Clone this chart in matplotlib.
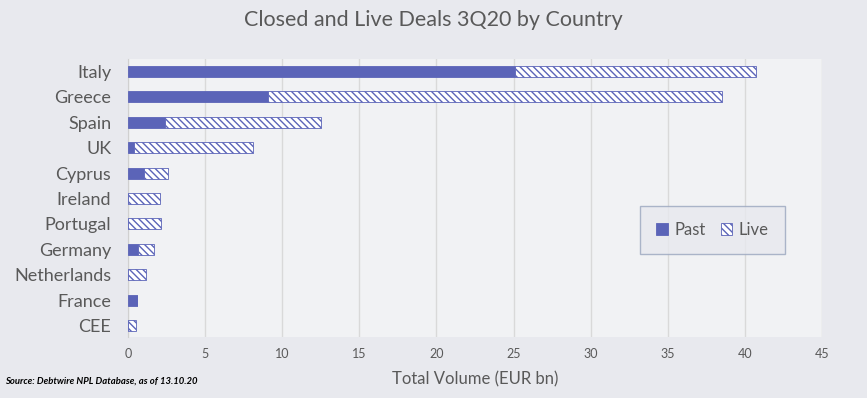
import matplotlib.pyplot as plt
import numpy as np

countries = ["Italy", "Greece", "Spain", "UK", "Cyprus", "Ireland", "Portugal",
             "Germany", "Netherlands", "France", "CEE"]
past = [25.1, 9.1, 2.4, 0.4, 1.05, 0.0, 0.0, 0.65, 0.0, 0.6, 0.0]
live = [15.6, 29.4, 10.1, 7.7, 1.55, 2.07, 2.14, 1.02, 1.15, 0.0, 0.55]
xticks = [0, 5, 10, 15, 20, 25, 30, 35, 40, 45]

blue = "#5B64B8"
txt = "#595959"
plt.rcParams["font.family"] = ["Lato", "DejaVu Sans"]
plt.rcParams["hatch.linewidth"] = 1.0

fig = plt.figure(figsize=(8.67, 3.98), dpi=100, facecolor="#E8E9EE")
ax = fig.add_axes([0.1476, 0.153, 0.8005, 0.699])
ax.set_facecolor("#F1F2F4")

y = np.arange(len(countries))
ax.barh(y, past, height=0.43, color=blue, edgecolor=blue, linewidth=0.6, label="Past", zorder=3)
ax.barh(y, live, left=past, height=0.43, color="white", edgecolor=blue, hatch="\\\\\\\\\\",
        linewidth=0.6, label="Live", zorder=3)

ax.set_xlim(0, 45)
ax.set_ylim(10.45, -0.49)
ax.set_xticks(xticks)
ax.set_yticks(y)
ax.set_yticklabels(countries, fontsize=13, color=txt)
ax.tick_params(axis="x", labelsize=9, colors=txt, length=0, pad=8)
ax.tick_params(axis="y", length=0, pad=12)
ax.grid(axis="x", color="#D9D9D9", linewidth=1, zorder=0)
for s in ["top", "right", "bottom"]:
    ax.spines[s].set_visible(False)
ax.spines["left"].set_color("#D0D0D0")
ax.set_xlabel("Total Volume (EUR bn)", fontsize=12, color=txt, labelpad=8)

fig.suptitle("Closed and Live Deals 3Q20 by Country", fontsize=15.5, color=txt, y=0.975)

leg = ax.legend(loc="upper left", bbox_to_anchor=(0.738, 0.471), ncol=2, fontsize=12,
                frameon=True, fancybox=False, facecolor="#E8E9EE", edgecolor="#9AA6BE",
                handlelength=0.7, handleheight=0.7, handletextpad=0.4, columnspacing=0.9,
                borderpad=0.95, labelcolor=txt, borderaxespad=0)
leg.get_frame().set_linewidth(1)

fig.text(0.006, 0.035, "Source: Debtwire NPL Database, as of 13.10.20", fontsize=6.8,
         style="italic", weight="bold", color="black", stretch="condensed")

fig.savefig("out.png", dpi=100, facecolor=fig.get_facecolor())
